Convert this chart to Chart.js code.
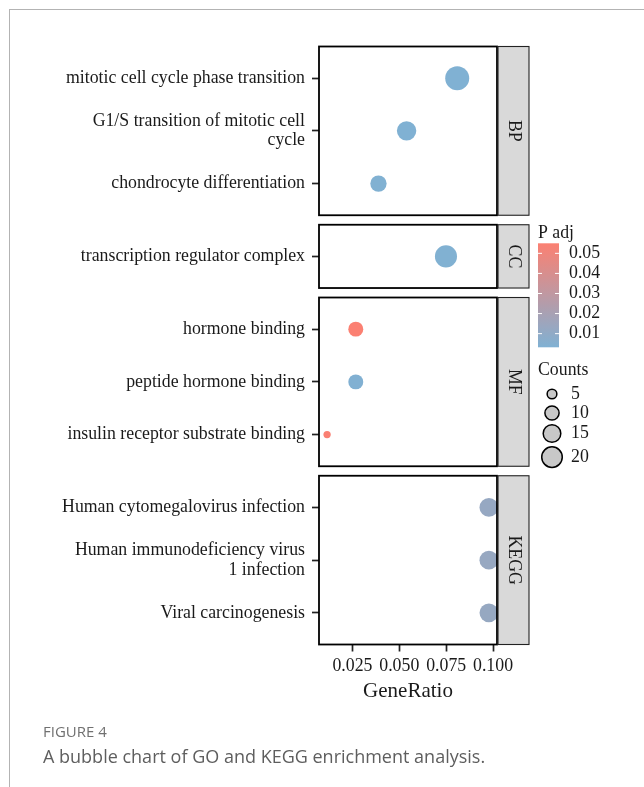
<!DOCTYPE html>
<html>
<head>
<title>GO and KEGG enrichment bubble chart</title>
<style>
  body { margin: 0; background: #fff; }
  #frame { position: absolute; left: 9px; top: 9px; width: 640px; height: 790px; border-left: 1px solid #b3b3b3; border-top: 1px solid #b3b3b3; }
  #chart { position: absolute; left: 0; top: 0; }
  .fig { position: absolute; left: 43px; top: 721px; font-family: 'Open Sans', sans-serif; font-size: 15px; line-height: 20px; color: #707070; }
  .cap { position: absolute; left: 43px; top: 743px; font-family: 'Open Sans', sans-serif; font-size: 18px; line-height: 26px; color: #5e5e5e; }
</style>
<script src="https://cdn.jsdelivr.net/npm/chart.js"></script>
</head>
<body>
<div id="frame"></div>
<canvas id="chart" width="644" height="787"></canvas>
<div class="fig">FIGURE 4</div>
<div class="cap">A bubble chart of GO and KEGG enrichment analysis.</div>
<script>
// data
const ontologies = ['BP', 'CC', 'MF', 'KEGG'];
const terms = [
  'mitotic cell cycle phase transition',
  ['G1/S transition of mitotic cell', 'cycle'],
  'chondrocyte differentiation',
  'transcription regulator complex',
  'hormone binding',
  'peptide hormone binding',
  'insulin receptor substrate binding',
  'Human cytomegalovirus infection',
  ['Human immunodeficiency virus', '1 infection'],
  'Viral carcinogenesis'
];
const termOntology = ['BP', 'BP', 'BP', 'CC', 'MF', 'MF', 'MF', 'KEGG', 'KEGG', 'KEGG'];
const geneRatio = [0.0809, 0.0539, 0.0389, 0.0749, 0.0268, 0.0268, 0.0115, 0.0978, 0.0978, 0.0978];
const counts = [27, 18, 13, 23, 11, 11, 3, 17, 17, 17];
const pAdjust = [0.0032, 0.0034, 0.0036, 0.0035, 0.0550, 0.0038, 0.0545, 0.0125, 0.0128, 0.0126];
const xTicks = [0.025, 0.05, 0.075, 0.1];
const pBreaks = [0.01, 0.02, 0.03, 0.04, 0.05];
const countBreaks = [5, 10, 15, 20];

const SERIF = "'Liberation Serif', 'Times New Roman', serif";
const INK = '#1a1a1a';
const LOW = '#80b1d3', HIGH = '#fb8072';
const FS = 17.8;

// facet layout in y units (one unit per row, 0.6 expansion each side)
const EXPAND = 0.6, GAP = 0.18;
const rowPos = [];
const panels = [];
let cursor = 0;
ontologies.forEach(o => {
  const idx = termOntology.map((t, i) => t === o ? i : -1).filter(i => i >= 0);
  const start = cursor;
  idx.forEach((i, k) => { rowPos[i] = start + EXPAND + k; });
  cursor = start + (idx.length - 1) + 2 * EXPAND;
  panels.push({ name: o, from: start, to: cursor });
  cursor += GAP;
});
const yMax = cursor - GAP;

const xLo = Math.min(...geneRatio), xHi = Math.max(...geneRatio);
const xPad = (xHi - xLo) * 0.05;

const pMin = Math.min(...pAdjust), pMax = Math.max(...pAdjust);
const cMin = Math.min(...counts), cMax = Math.max(...counts);

function hex(h) { return [1, 3, 5].map(k => parseInt(h.substr(k, 2), 16)); }
function colourFor(p) {
  const t = Math.max(0, Math.min(1, (p - pMin) / (pMax - pMin)));
  const a = hex(LOW), b = hex(HIGH);
  return 'rgb(' + a.map((v, k) => Math.round(v + (b[k] - v) * t)).join(',') + ')';
}
// diameter from count, area-style scale
function diameter(c) {
  return 7.3 + 16.7 * (Math.sqrt(c) - Math.sqrt(cMin)) / (Math.sqrt(cMax) - Math.sqrt(cMin));
}

const facetPlugin = {
  id: 'facets',
  afterDatasetsDraw(chart) {
    const { ctx, chartArea: a, scales: { y } } = chart;
    ctx.save();
    panels.forEach(p => {
      const y1 = y.getPixelForValue(p.from), y2 = y.getPixelForValue(p.to);
      ctx.strokeStyle = '#000';
      ctx.lineWidth = 1.8;
      ctx.strokeRect(a.left, y1, a.right - a.left, y2 - y1);
      // strip
      ctx.fillStyle = '#d9d9d9';
      ctx.fillRect(a.right + 1, y1, 31, y2 - y1);
      ctx.lineWidth = 1.1;
      ctx.strokeStyle = '#222';
      ctx.strokeRect(a.right + 1, y1, 31, y2 - y1);
      ctx.save();
      ctx.translate(a.right + 17, (y1 + y2) / 2);
      ctx.rotate(Math.PI / 2);
      ctx.fillStyle = INK;
      ctx.font = FS + 'px ' + SERIF;
      ctx.textAlign = 'center';
      ctx.textBaseline = 'middle';
      ctx.fillText(p.name, 0, 0);
      ctx.restore();
    });
    ctx.restore();
  },
  afterDraw(chart) {
    const ctx = chart.ctx;
    const lx = 538;
    ctx.save();
    ctx.font = FS + 'px ' + SERIF;
    ctx.fillStyle = INK;
    ctx.textBaseline = 'middle';
    ctx.fillText('P adj', lx, 233);
    // colour bar
    const top = 243.3, bot = 347.3, w = 21;
    const g = ctx.createLinearGradient(0, bot, 0, top);
    for (let k = 0; k <= 10; k++) g.addColorStop(k / 10, colourFor(pMin + (pMax - pMin) * k / 10));
    ctx.fillStyle = g;
    ctx.fillRect(lx, top, w, bot - top);
    pBreaks.forEach(b => {
      const yy = bot - (b - pMin) / (pMax - pMin) * (bot - top);
      ctx.strokeStyle = '#fff';
      ctx.lineWidth = 1;
      ctx.beginPath();
      ctx.moveTo(lx, yy); ctx.lineTo(lx + 4, yy);
      ctx.moveTo(lx + w - 4, yy); ctx.lineTo(lx + w, yy);
      ctx.stroke();
      ctx.fillStyle = INK;
      ctx.fillText(b.toFixed(2), lx + 31, yy);
    });
    // size legend
    ctx.fillStyle = INK;
    ctx.fillText('Counts', lx, 370);
    let ky = 384.5;
    countBreaks.forEach(c => {
      const d = diameter(c);
      const h = Math.max(19, d + 4.5);
      const cy = ky + h / 2;
      ctx.beginPath();
      ctx.arc(lx + 14, cy, d / 2, 0, Math.PI * 2);
      ctx.fillStyle = '#c8c8c8';
      ctx.fill();
      ctx.lineWidth = 1.5;
      ctx.strokeStyle = '#000';
      ctx.stroke();
      ctx.fillStyle = INK;
      ctx.fillText(String(c), lx + 33, cy);
      ky += h;
    });
    ctx.restore();
  }
};

new Chart(document.getElementById('chart'), {
  type: 'bubble',
  data: {
    datasets: [{
      data: geneRatio.map((g, i) => ({ x: g, y: rowPos[i], r: diameter(counts[i]) / 2 })),
      backgroundColor: pAdjust.map(colourFor),
      borderWidth: 0,
      hoverRadius: 0,
      clip: false
    }]
  },
  options: {
    responsive: false,
    animation: false,
    events: [],
    layout: { autoPadding: false, padding: { left: 0, top: 46.5, right: 147, bottom: 82.5 } },
    plugins: { legend: { display: false }, tooltip: { enabled: false } },
    scales: {
      x: {
        type: 'linear',
        min: xLo - xPad,
        max: xHi + xPad,
        afterBuildTicks: s => { s.ticks = xTicks.map(v => ({ value: v })); },
        afterFit: s => { s.height = 60; },
        border: { display: false },
        grid: { drawOnChartArea: false, tickLength: 7, tickWidth: 1.7, tickColor: '#222' },
        ticks: { padding: 4, color: INK, font: { family: SERIF, size: FS }, maxRotation: 0, autoSkip: false,
                 callback: v => v.toFixed(3) },
        title: { display: true, text: 'GeneRatio', color: INK, padding: 0, font: { family: SERIF, size: 21 } }
      },
      y: {
        type: 'linear',
        reverse: true,
        min: 0,
        max: yMax,
        afterBuildTicks: s => { s.ticks = rowPos.map(v => ({ value: v })); },
        afterFit: s => { s.width = 319; },
        border: { display: false },
        grid: { drawOnChartArea: false, tickLength: 7, tickWidth: 1.7, tickColor: '#222' },
        ticks: { padding: 7, color: INK, autoSkip: false, font: { family: SERIF, size: FS, lineHeight: 1.1 },
                 callback: (v, i) => terms[i] }
      }
    }
  },
  plugins: [facetPlugin]
});
</script>
</body>
</html>
